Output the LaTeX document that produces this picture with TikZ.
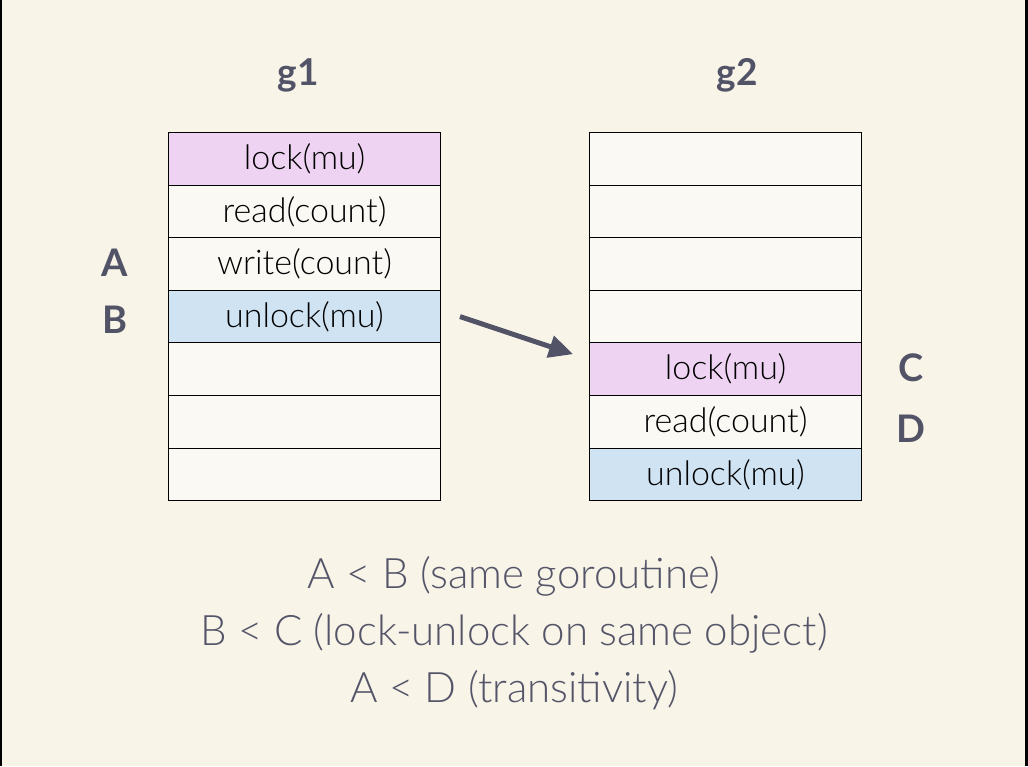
\documentclass[tikz,border=0pt]{standalone}
\usepackage{fontspec}
\setmainfont{Lato}
\newfontfamily\lightfont{Lato Light}
\usetikzlibrary{arrows.meta,calc}
\definecolor{bg}{HTML}{F8F4E8}
\definecolor{cellbg}{HTML}{FAF9F4}
\definecolor{lockc}{HTML}{EFD3F2}
\definecolor{unlockc}{HTML}{CFE3F3}
\definecolor{ink}{HTML}{525367}
\definecolor{softink}{HTML}{555569}
\tikzset{
  cell/.style={draw=black, line width=1pt, fill=cellbg, minimum width=272pt, minimum height=52.6pt, inner sep=0pt, anchor=north west, font=\lightfont\fontsize{34}{38}\selectfont, text=black},
  lockcell/.style={cell, fill=lockc},
  unlockcell/.style={cell, fill=unlockc},
  title/.style={font=\bfseries\fontsize{37}{40}\selectfont, text=ink},
  letter/.style={font=\bfseries\fontsize{38}{40}\selectfont, text=ink},
  rule/.style={font=\lightfont\fontsize{42}{46}\selectfont, text=softink},
  arrowline/.style={draw=ink, line width=5pt, -{Triangle[length=24pt,width=22pt]}}
}
\begin{document}
\begin{tikzpicture}[x=1pt,y=-1pt]
\fill[black] (0,0) rectangle (1028,766);
\fill[bg] (2,0) rectangle (1025,766);
\useasboundingbox (0,0) rectangle (1028,766);
% titles
\node[title] (t1) at (298,75) {g1};
\node[title] (t2) at (737,75) {g2};
% g1 column
\node[lockcell] (a1) at (168,132) {lock(mu)};
\node[cell] (a2) at (168,184.6) {read(count)};
\node[cell] (a3) at (168,237.2) {write(count)};
\node[unlockcell] (a4) at (168,289.8) {unlock(mu)};
\node[cell] (a5) at (168,342.4) {};
\node[cell] (a6) at (168,395) {};
\node[cell] (a7) at (168,447.6) {};
% g2 column
\node[cell] (b1) at (589,132) {};
\node[cell] (b2) at (589,184.6) {};
\node[cell] (b3) at (589,237.2) {};
\node[cell] (b4) at (589,289.8) {};
\node[lockcell] (b5) at (589,342.4) {lock(mu)};
\node[cell] (b6) at (589,395) {read(count)};
\node[unlockcell] (b7) at (589,447.6) {unlock(mu)};
% letters
\node[letter] (la) at (115,263) {A};
\node[letter] (lb) at (115,320) {B};
\node[letter] (lc) at (911,368) {C};
\node[letter] (ld) at (911,429) {D};
% arrow
\coordinate (as) at ($(a4.east)+(19,0)$);
\coordinate (ae) at ($(b5.west)+(-16,-15)$);
\draw[arrowline] (as) -- (ae);
% rules
\node[rule] (r1) at (514,576) {A < B (same goroutine)};
\node[rule] (r2) at (514,633) {B < C (lock-unlock on same object)};
\node[rule] (r3) at (514,690) {A < D (transitivity)};
\end{tikzpicture}
\end{document}
